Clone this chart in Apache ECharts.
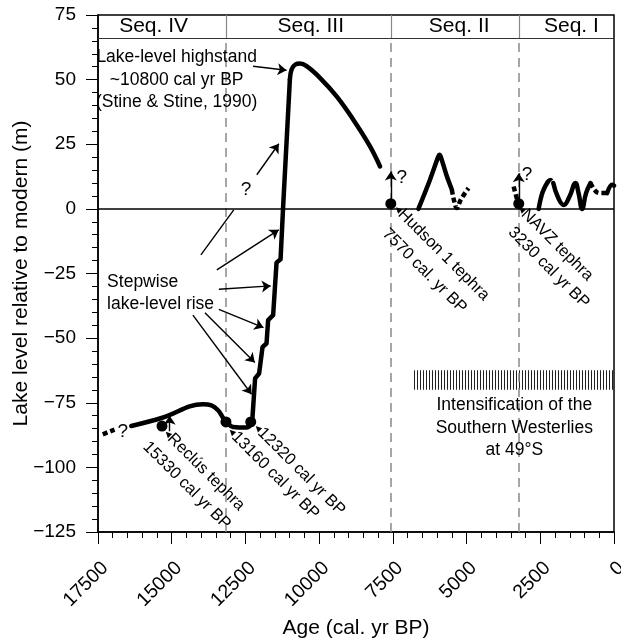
<!DOCTYPE html>
<html>
<head>
<meta charset="utf-8">
<script src="https://cdn.jsdelivr.net/npm/echarts@6/dist/echarts.min.js"></script>
<style>
  html, body { margin: 0; padding: 0; background: #fff; }
  #chart { width: 621px; height: 644px; }
</style>
</head>
<body>
<div id="chart"></div>
<script>
const FONT = '"Liberation Sans", Arial, Helvetica, sans-serif';

// sequence boundaries (cal yr BP) and the header band
const seqBounds = [13160, 7570, 3230];
const seqNames = ['Seq. IV', 'Seq. III', 'Seq. II', 'Seq. I'];
const seqLabelAges = [15614, 10286, 5250, 1445];
const headerLevel = 66;

// lake level curve, [age, level (m)]
const seqIVDashed = [[17337, -87.2], [16939, -85.4]];
const seqIVCurve = [[16372, -84.0], [15319, -80.8], [13939, -75.6], [13653, -76.0], [13429, -77.9],
  [13259, -80.8], [13089, -83.1], [12920, -84.4], [12464, -84.6], [12294, -83.1]];
const stepRise = [[12294, -83.1], [12260, -80.5], [12172, -65.6], [12036, -63.7], [11920, -53.4],
  [11785, -52.1], [11730, -43.0], [11560, -41.1], [11445, -20.8], [11309, -19.5], [11221, 0.9], [10993, 50.0]];
const highstand = [[10993, 50.0], [10935, 53.9], [10800, 55.9], [10653, 56.2], [10425, 55.2], [9973, 50.7],
  [9406, 43.5], [8842, 34.5], [8274, 24.2], [7934, 16.4]];
const seqIISolid = [[6633, 0], [6250, 11], [5960, 20.2], [5920, 20.9], [5870, 20], [5680, 13], [5498, 7.4]];
const seqIIDashed = [[5498, 7.4], [5420, 3], [5329, 0.3], [5200, 3.5], [4934, 8]];
const navzDashed = [[3290, 3.8], [3405, 8.7]];
const seqISolidA = [[2556, 0], [2420, 6.5], [2250, 10.4]];
const seqIDashedA = [[2250, 10.4], [2158, 11.2], [2060, 10]];
const seqISolidB = [[2060, 10], [1900, 4.5], [1706, 1.5], [1500, 5], [1309, 10], [1200, 6], [1081, 0],
  [950, 6], [799, 10]];
const seqIDashedB = [[799, 10], [620, 6.8], [459, 6.1], [232, 6.1]];
const seqISolidC = [[232, 6.1], [62, 9.3], [0, 9]];

// dated tephra / lake-level points
const datedPoints = [[15330, -84.0], [13160, -82.4], [12320, -82.4], [7570, 2], [3230, 2]];
const upArrows = [
  [[15070, -86], [15070, -80]],
  [[7570, 2], [7570, 14.5]],
  [[3230, 2], [3230, 13.8]]
];

// annotation arrows [[from], [to]]
const pointerArrows = [
  [[12240, 55.2], [11105, 53.6]],
  [[12114, 13.2], [11367, 25.2]],
  [[13470, -23.6], [11370, -8.1]],
  [[13402, -31.1], [11642, -29.8]],
  [[13402, -38.9], [11887, -45.9]],
  [[13874, -40.2], [12182, -59.4]],
  [[14282, -41.1], [12291, -71.7]]
];
const plainSegments = [[[14010, -17.8], [12896, -0.4]]];

// intensification of the westerlies (hatched band)
const westerlies = { from: 6800, to: 0, top: -62.4, bottom: -70 };

// text annotations
const blockTexts = [
  { at: [14833, 49.8], text: 'Lake-level highstand\n~10800 cal yr BP\n(Stine & Stine, 1990)', align: 'center' },
  { at: [17191, -32.6], text: 'Stepwise\nlake-level rise', align: 'left' },
  { at: [3381, -84.7], text: 'Intensification of the\nSouthern Westerlies\nat 49°S', align: 'center' }
];
const tiltedTexts = [
  { at: [7391, 0.6], text: '{t|◀}Hudson 1 tephra' },
  { at: [7771, -8.7], text: '7570 cal. yr BP' },
  { at: [3208, 0.6], text: '{t|◀}NAVZ tephra' },
  { at: [3501, -8.1], text: '3230 cal yr BP' },
  { at: [15206, -86.2], text: '{t|◀}Reclús tephra' },
  { at: [15886, -91.1], text: '15330 cal yr BP' },
  { at: [13032, -85.5], text: '{t|◀}13160 cal yr BP' },
  { at: [12148, -84.0], text: '{t|◀}12320 cal yr BP' }
];
const questionMarks = [[16660, -86.3], [12480, 7.5], [7197, 11.9], [2950, 13.2]];

const chart = echarts.init(document.getElementById('chart'), null, { renderer: 'canvas' });

function curve(data, dashed, smooth) {
  return {
    type: 'line',
    data: data,
    smooth: smooth || false,
    showSymbol: false,
    symbol: 'none',
    silent: true,
    z: 5,
    lineStyle: {
      color: '#000',
      width: 4.5,
      type: dashed ? [5, 3] : 'solid',
      cap: dashed ? 'butt' : 'round',
      join: 'round'
    }
  };
}

const hatch = document.createElement('canvas');
hatch.width = 3;
hatch.height = 4;
const hctx = hatch.getContext('2d');
hctx.fillStyle = '#222';
hctx.fillRect(0, 0, 1, 4);

const dashedBounds = seqBounds.map(a => ({ coords: [[a, -125], [a, headerLevel]] }));
const solidBounds = seqBounds.map(a => ({ coords: [[a, headerLevel], [a, 75]] }));

const baseSeries = curve(seqIVDashed, true, false);
baseSeries.markLine = {
  silent: true,
  symbol: 'none',
  label: { show: false },
  animation: false,
  data: [
    { yAxis: 0, lineStyle: { color: '#000', width: 1.5, type: 'solid' } },
    { yAxis: headerLevel, lineStyle: { color: '#333', width: 1.2, type: 'solid' } }
  ]
};
baseSeries.markArea = {
  silent: true,
  itemStyle: { color: { image: hatch, repeat: 'repeat' } },
  data: [[{ coord: [westerlies.from, westerlies.top] }, { coord: [westerlies.to, westerlies.bottom] }]]
};

function ticks() {
  return { show: true, inside: false, length: 12, lineStyle: { color: '#000', width: 1, opacity: 1 } };
}
function minorTicks() {
  return { show: true, splitNumber: 5, length: 6, lineStyle: { color: '#000', width: 1, opacity: 1 } };
}

chart.setOption({
  animation: false,
  textStyle: { fontFamily: FONT, color: '#000' },
  grid: { left: 98, right: 7, top: 15, bottom: 112, show: true, borderColor: '#000', borderWidth: 1.5,
    outerBoundsMode: 'none' },
  xAxis: {
    type: 'value',
    inverse: true,
    min: 0,
    max: 17500,
    interval: 2500,
    position: 'bottom',
    name: 'Age (cal. yr BP)',
    nameLocation: 'middle',
    nameGap: 86,
    nameMoveOverlap: false,
    nameTextStyle: { fontSize: 21, color: '#000', fontFamily: FONT },
    axisLine: { show: true, onZero: false, lineStyle: { color: '#000', width: 1.5 } },
    axisTick: ticks(),
    minorTick: minorTicks(),
    splitLine: { show: false },
    minorSplitLine: { show: false },
    axisLabel: { rotate: 45, fontSize: 19.5, color: '#000', margin: 26, verticalAlign: 'top',
      showMaxLabel: true, showMinLabel: true, formatter: v => String(v) }
  },
  yAxis: {
    type: 'value',
    min: -125,
    max: 75,
    interval: 25,
    position: 'left',
    name: 'Lake level relative to modern (m)',
    nameLocation: 'middle',
    nameGap: 66,
    nameMoveOverlap: false,
    nameTextStyle: { fontSize: 21, color: '#000', fontFamily: FONT },
    axisLine: { show: true, onZero: false, lineStyle: { color: '#000', width: 1.5 } },
    axisTick: ticks(),
    minorTick: minorTicks(),
    splitLine: { show: false },
    minorSplitLine: { show: false },
    axisLabel: { fontSize: 19, color: '#000', margin: 22,
      formatter: v => String(v).replace('-', '\u2212') }
  },
  series: [
    {
      type: 'lines',
      coordinateSystem: 'cartesian2d',
      silent: true,
      z: 2,
      lineStyle: { color: '#888', width: 1.5, type: [9, 6], opacity: 1 },
      data: dashedBounds
    },
    {
      type: 'lines',
      coordinateSystem: 'cartesian2d',
      silent: true,
      z: 2,
      lineStyle: { color: '#888', width: 1.2, type: 'solid', opacity: 1 },
      data: solidBounds
    },
    baseSeries,
    curve(seqIVCurve, false, 0.4),
    curve(stepRise, false, false),
    curve(highstand, false, 0.4),
    curve(seqIISolid, false, 0.3),
    curve(seqIIDashed, true, 0.4),
    curve(navzDashed, true, false),
    curve(seqISolidA, false, 0.4),
    curve(seqIDashedA, true, 0.4),
    curve(seqISolidB, false, 0.45),
    curve(seqIDashedB, true, 0.4),
    curve(seqISolidC, false, 0.4),
    {
      type: 'lines',
      coordinateSystem: 'cartesian2d',
      silent: true,
      z: 4,
      symbol: ['none', 'arrow'],
      symbolSize: 9,
      lineStyle: { color: '#000', width: 1.4, opacity: 1 },
      data: pointerArrows.concat(upArrows).map(s => ({ coords: s }))
    },
    {
      type: 'lines',
      coordinateSystem: 'cartesian2d',
      silent: true,
      z: 4,
      lineStyle: { color: '#000', width: 1.4, opacity: 1 },
      data: plainSegments.map(s => ({ coords: s }))
    },
    {
      type: 'scatter',
      data: datedPoints,
      symbol: 'circle',
      symbolSize: 11,
      silent: true,
      z: 6,
      itemStyle: { color: '#000', opacity: 1 }
    }
  ]
});

function toPx(p) {
  return chart.convertToPixel({ gridIndex: 0 }, p);
}

const graphics = [];
seqNames.forEach(function (name, i) {
  const p = toPx([seqLabelAges[i], (headerLevel + 75) / 2]);
  graphics.push({ type: 'text', x: p[0], y: p[1], z: 10, silent: true,
    style: { text: name, fontSize: 21, fontFamily: FONT, fill: '#000', textAlign: 'center', textVerticalAlign: 'middle' } });
});
blockTexts.forEach(function (b) {
  const p = toPx(b.at);
  graphics.push({ type: 'text', x: p[0], y: p[1], z: 10, silent: true,
    style: { text: b.text, fontSize: 17.5, lineHeight: 22.5, fontFamily: FONT, fill: '#000',
      textAlign: b.align, textVerticalAlign: 'middle' } });
});
tiltedTexts.forEach(function (t) {
  const p = toPx(t.at);
  graphics.push({ type: 'text', x: p[0], y: p[1], rotation: -Math.PI / 4, z: 10, silent: true,
    style: { text: t.text, fontSize: 16.5, fontFamily: FONT, fill: '#000', textAlign: 'left', textVerticalAlign: 'middle',
      rich: { t: { fontSize: 8, fontFamily: '"DejaVu Sans", sans-serif', fill: '#000' } } } });
});
questionMarks.forEach(function (q) {
  const p = toPx(q);
  graphics.push({ type: 'text', x: p[0], y: p[1], z: 10, silent: true,
    style: { text: '?', fontSize: 19, fontFamily: FONT, fill: '#000', textAlign: 'center', textVerticalAlign: 'middle' } });
});
chart.setOption({ graphic: graphics });
</script>
</body>
</html>
